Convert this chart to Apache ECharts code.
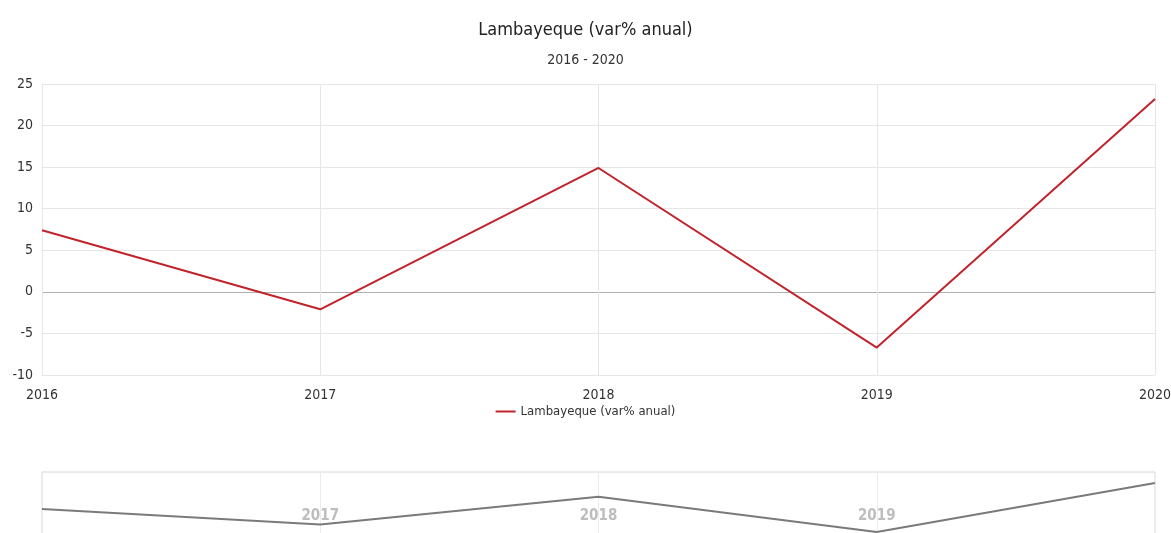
<!DOCTYPE html>
<html>
<head>
<meta charset="utf-8">
<script src="https://cdn.jsdelivr.net/npm/echarts@6/dist/echarts.min.js"></script>
<style>
  html, body { margin: 0; padding: 0; background: #fff; }
  #chart { width: 1171px; height: 533px; }
</style>
</head>
<body>
<div id="chart"></div>
<script>
// data
var years = ['2016', '2017', '2018', '2019', '2020'];
var variacion = [7.4, -2.1, 14.9, -6.7, 23.2];
var serieName = 'Lambayeque (var% anual)';

var fontName = '"Liberation Sans Narrow", "DejaVu Sans Condensed", sans-serif';

var dom = document.getElementById('chart');
var myChart = echarts.init(dom, null, { renderer: 'canvas' });

// zero line a bit darker than the other grid lines
var gridColors = ['#e6e6e6', '#e6e6e6', '#b0b0b0', '#e6e6e6', '#e6e6e6', '#e6e6e6', '#e6e6e6', '#e6e6e6'];

var option = {
  animation: false,
  textStyle: { fontFamily: fontName },
  title: {
    text: serieName,
    subtext: '2016 - 2020',
    left: 'center',
    top: 16,
    itemGap: 14,
    textStyle: { fontFamily: fontName, fontSize: 18, fontWeight: 'normal', color: '#222' },
    subtextStyle: { fontFamily: fontName, fontSize: 14, color: '#333' }
  },
  legend: {
    top: 400,
    left: 'center',
    itemWidth: 20,
    itemHeight: 14,
    itemGap: 6,
    icon: 'path://M0,6 L20,6 L20,8 L0,8 Z',
    textStyle: { fontFamily: fontName, fontSize: 13, color: '#333' },
    data: [serieName]
  },
  grid: [
    { left: 42, right: 16, top: 84, bottom: 158, outerBoundsMode: 'none' },
    { left: 42, right: 16, top: 472, height: 80, outerBoundsMode: 'none', show: true, borderColor: '#d6d6d6', borderWidth: 1 }
  ],
  xAxis: [
    {
      type: 'category',
      gridIndex: 0,
      data: years,
      boundaryGap: false,
      axisLine: { show: false },
      axisTick: { show: false },
      axisLabel: { margin: 13, fontSize: 14, color: '#333', fontFamily: fontName },
      splitLine: { show: true, lineStyle: { color: '#e6e6e6' } }
    },
    {
      type: 'category',
      gridIndex: 1,
      data: years,
      boundaryGap: false,
      axisLine: { show: false },
      axisTick: { show: false },
      axisLabel: {
        inside: true, margin: 28, fontSize: 15, fontWeight: 'bold', color: '#bdbdbd',
        fontFamily: fontName, showMinLabel: false, showMaxLabel: false
      },
      splitLine: { show: true, lineStyle: { color: '#ececec' } }
    }
  ],
  yAxis: [
    {
      type: 'value',
      gridIndex: 0,
      min: -10,
      max: 25,
      interval: 5,
      axisLine: { show: false },
      axisTick: { show: false },
      axisLabel: { fontSize: 14, color: '#333', margin: 9, fontFamily: fontName },
      splitLine: { show: true, lineStyle: { color: gridColors } }
    },
    {
      type: 'value',
      gridIndex: 1,
      min: -19,
      max: 30,
      show: false,
      splitLine: { show: false }
    }
  ],
  series: [
    {
      name: serieName,
      type: 'line',
      xAxisIndex: 0,
      yAxisIndex: 0,
      data: variacion,
      symbol: 'none',
      lineStyle: { color: '#c0232b', width: 2 },
      itemStyle: { color: '#c0232b' }
    },
    {
      name: 'preview',
      type: 'line',
      xAxisIndex: 1,
      yAxisIndex: 1,
      data: variacion,
      symbol: 'none',
      silent: true,
      lineStyle: { color: '#7a7a7a', width: 2 }
    }
  ]
};

myChart.setOption(option);
window.addEventListener('resize', myChart.resize);
</script>
</body>
</html>
